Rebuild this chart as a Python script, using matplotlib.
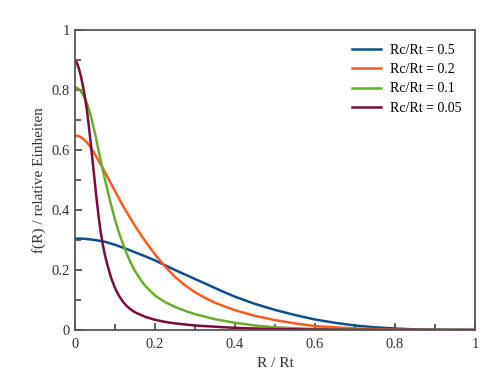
import matplotlib
matplotlib.use('Agg')
import matplotlib.pyplot as plt
from matplotlib.ticker import MultipleLocator

# values
x_blue = [0, .025, .05, .075, .1, .125, .15, .175, .2, .225, .25, .275, .3, .325, .35, .375, .4,
          .45, .5, .55, .6, .65, .7, .75, .8, .85, .9, 1.0]
y_blue = [.305, .304, .300, .294, .284, .272, .259, .246, .232, .216, .200, .185, .170, .155, .140, .125, .111,
          .087, .067, .050, .035, .024, .015, .009, .005, .002, .001, 0]

x_orange = [0, .01, .02, .03, .04, .05, .06, .07, .08, .09, .1, .11, .125, .15, .175, .2, .225, .25, .275,
            .3, .325, .35, .375, .4, .45, .5, .55, .6, .7, .8, .9, 1.0]
y_orange = [.648, .646, .638, .625, .607, .585, .562, .538, .513, .488, .463, .438, .402, .347, .297, .252, .212, .177, .149,
            .126, .107, .091, .078, .066, .047, .033, .022, .013, .005, .001, 0, 0]

x_green = [0, .01, .02, .03, .04, .05, .06, .07, .08, .09, .1, .11, .125, .14, .15, .165, .175, .2, .225, .25,
           .275, .3, .35, .4, .45, .5, .6, .7, .8, 1.0]
y_green = [.810, .803, .785, .755, .712, .655, .592, .530, .472, .418, .368, .324, .268, .222, .197, .166, .148, .115, .093, .077,
           .064, .053, .036, .024, .015, .009, .003, .001, 0, 0]

x_purple = [0, .005, .01, .015, .02, .025, .03, .035, .04, .045, .05, .055, .06, .065, .07, .075, .08, .09, .1,
            .11, .12, .13, .14, .15, .175, .2, .225, .25, .3, .35, .4, .45, .5, .6, .7, .8, 1.0]
y_purple = [.900, .890, .870, .845, .812, .775, .730, .675, .615, .550, .487, .425, .368, .320, .281, .249, .222, .175, .140,
            .114, .094, .079, .068, .059, .044, .034, .027, .022, .015, .011, .007, .005, .003, .0015, .0005, 0, 0]

labels = ['Rc/Rt = 0.5', 'Rc/Rt = 0.2', 'Rc/Rt = 0.1', 'Rc/Rt = 0.05']
colors = ['#0d4f8b', '#ff5a1f', '#6aac2c', '#7d0a3c']
tick_vals = [0, .2, .4, .6, .8, 1]
tick_text = ['0', '0.2', '0.4', '0.6', '0.8', '1']

plt.rcParams['font.family'] = ['Liberation Serif', 'DejaVu Serif']

fig = plt.figure(figsize=(5, 3.75), dpi=100)
ax = fig.add_axes([0.15, 0.12, 0.80, 0.80])

series = [(x_blue, y_blue), (x_orange, y_orange), (x_green, y_green), (x_purple, y_purple)]
for (xs, ys), lab, col in zip(series, labels, colors):
    ax.plot(xs, ys, color=col, lw=1.8, label=lab, solid_joinstyle='round')

ax.set_xlim(0, 1)
ax.set_ylim(0, 1)
ax.set_xticks(tick_vals)
ax.set_yticks(tick_vals)
ax.set_xticklabels(tick_text)
ax.set_yticklabels(tick_text)
ax.xaxis.set_minor_locator(MultipleLocator(0.1))
ax.yaxis.set_minor_locator(MultipleLocator(0.1))

ax.tick_params(which='both', direction='in', colors='#444444', labelcolor='#333333', labelsize=10.5)
ax.tick_params(which='major', length=5, width=1.2)
ax.tick_params(which='minor', length=4, width=1.2)
ax.tick_params(axis='x', pad=6)
for s in ax.spines.values():
    s.set_color('#555555')
    s.set_linewidth(1.3)

ax.set_xlabel('R / Rt', fontsize=11, color='#333333')
ax.set_ylabel('f(R) / relative Einheiten', fontsize=11, color='#333333')

ax.legend(loc='upper right', frameon=False, fontsize=10, handlelength=2.1,
          handletextpad=0.6, labelspacing=0.45, borderaxespad=0.6)

fig.savefig('out.png')
